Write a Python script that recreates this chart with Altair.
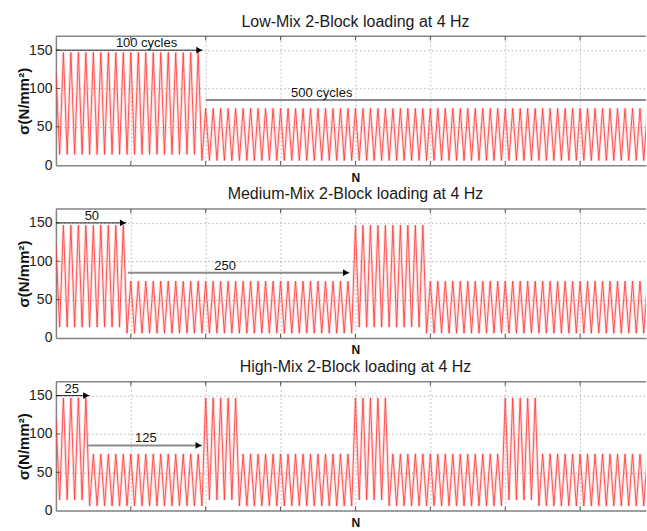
import altair as alt
import pandas as pd

FONT = "Liberation Sans"

TITLES = [
    "Low-Mix 2-Block loading at 4 Hz",
    "Medium-Mix 2-Block loading at 4 Hz",
    "High-Mix 2-Block loading at 4 Hz",
]

# Stress levels (N/mm²) of the two block types and the value the record starts at
HIGH_PEAK, HIGH_VALLEY = 147, 14
LOW_PEAK, LOW_VALLEY = 74, 6
START_VALUE = 120

# Spans of the high-stress blocks along N (one unit = one drawn load cycle);
# everything outside them is the low-stress block
HIGH_BLOCKS = [
    [(0, 19.5)],
    [(0, 9.5), (39.5, 49.5)],
    [(0, 4.5), (19.5, 24.5), (39.5, 44.5), (59.5, 64.5)],
]

# Block-length annotations: label, arrow start, arrow end, stress level, label centre, style
ANNOTATIONS = [
    [("100 cycles", 0, 19.6, 150, 12.1, "dark", True),
     ("500 cycles", 20.0, 90, 85, 35.5, "gray", False)],
    [("50", 0, 9.4, 150, 4.8, "dark", True),
     ("250", 9.6, 39.2, 85, 22.6, "gray", True)],
    [("25", 0, 4.5, 150, 2.1, "dark", True),
     ("125", 4.3, 19.5, 85, 12.0, "gray", True)],
]

X_MAX = 78.8
Y_MAX = 168
X_TICKS = [0, 10, 20, 30, 40, 50, 60, 70]
Y_TICKS = [0, 50, 100, 150]

PLOT_W, PLOT_H = 591, 129
FRAME = "#858585"
GRID = "#b5b5b5"
WAVE = "#ff3b3b"


def waveform(blocks):
    """Turning points of the block loading: peaks on whole cycles, valleys between."""
    rows = [{"t": 0.0, "s": START_VALUE}]
    k = 1
    while k / 2 <= X_MAX + 0.5:
        t = k / 2
        high = any(a < t < b for a, b in blocks)
        if k % 2 == 0:
            s = HIGH_PEAK if high else LOW_PEAK
        else:
            s = HIGH_VALLEY if high else LOW_VALLEY
        rows.append({"t": t, "s": s})
        k += 1
    return pd.DataFrame(rows)


def panel(i):
    x_scale = alt.Scale(domain=[0, X_MAX], nice=False, zero=False)
    y_scale = alt.Scale(domain=[0, Y_MAX], nice=False)

    x_axis = alt.Axis(
        values=X_TICKS, labels=False, ticks=False, grid=True,
        gridColor=GRID, gridDash=[1.5, 2.5], gridWidth=1,
        domainColor=FRAME, domainWidth=1.5,
        title="N", titleFont=FONT, titleFontSize=12, titleFontWeight="bold",
        titleColor="#111", titleX=300, titleY=7, titleBaseline="top",
    )
    y_axis = alt.Axis(
        values=Y_TICKS, ticks=False, grid=True,
        gridColor=GRID, gridDash=[1.5, 2.5], gridWidth=1,
        domainColor=FRAME, domainWidth=1.5,
        labelFont=FONT, labelFontSize=14, labelColor="#222", labelPadding=4,
        title="σ(N/mm²)", titleFont=FONT, titleFontSize=15, titleFontWeight="bold",
        titleColor="#111", titleX=-32, titleY=PLOT_H / 2, titleBaseline="middle",
        titleAngle=-90,
    )

    data = waveform(HIGH_BLOCKS[i])

    # soft halo under the trace, then the trace itself
    halo = alt.Chart(data).mark_line(
        color=WAVE, strokeWidth=3, clip=True, opacity=0.18
    ).encode(
        x=alt.X("t:Q", scale=x_scale, axis=x_axis),
        y=alt.Y("s:Q", scale=y_scale, axis=y_axis),
    )
    wave = alt.Chart(data).mark_line(
        color=WAVE, strokeWidth=1, clip=True, opacity=0.85
    ).encode(
        x=alt.X("t:Q", scale=x_scale),
        y=alt.Y("s:Q", scale=y_scale),
    )

    ann = pd.DataFrame(
        ANNOTATIONS[i],
        columns=["label", "x0", "x1", "level", "xc", "style", "head"],
    )

    arrows = alt.Chart(ann).mark_rule(clip=True).encode(
        x=alt.X("x0:Q", scale=x_scale),
        x2="x1:Q",
        y=alt.Y("level:Q", scale=y_scale),
        color=alt.Color("style:N", scale=alt.Scale(domain=["dark", "gray"], range=["#1e1e1e", "#8c8c8c"]), legend=None),
        strokeWidth=alt.StrokeWidth("style:N", scale=alt.Scale(domain=["dark", "gray"], range=[1, 2]), legend=None),
    )

    heads = alt.Chart(ann).transform_filter("datum.head").mark_point(
        shape="triangle-right", filled=True, color="#000", size=45, opacity=1, xOffset=-3.5
    ).encode(
        x=alt.X("x1:Q", scale=x_scale),
        y=alt.Y("level:Q", scale=y_scale),
    )

    labels = alt.Chart(ann).mark_text(
        font=FONT, fontSize=13, color="#111", baseline="alphabetic", dy=-3
    ).encode(
        x=alt.X("xc:Q", scale=x_scale),
        y=alt.Y("level:Q", scale=y_scale),
        text="label:N",
    )

    # frame top edge and inward tick marks
    top = alt.Chart(pd.DataFrame({"v": [Y_MAX]})).mark_rule(
        color=FRAME, strokeWidth=1.5
    ).encode(y=alt.Y("v:Q", scale=y_scale))

    xt = pd.DataFrame({"v": X_TICKS[1:]})
    x_ticks_bottom = alt.Chart(xt).mark_rule(color="#555", strokeWidth=1).encode(
        x=alt.X("v:Q", scale=x_scale), y=alt.value(PLOT_H), y2=alt.value(PLOT_H - 4)
    )
    x_ticks_top = alt.Chart(xt).mark_rule(color="#555", strokeWidth=1).encode(
        x=alt.X("v:Q", scale=x_scale), y=alt.value(0), y2=alt.value(4)
    )
    y_ticks = alt.Chart(pd.DataFrame({"v": Y_TICKS[1:]})).mark_rule(
        color="#555", strokeWidth=1
    ).encode(y=alt.Y("v:Q", scale=y_scale), x=alt.value(0), x2=alt.value(4))

    return alt.layer(
        halo, wave, top, x_ticks_bottom, x_ticks_top, y_ticks, arrows, heads, labels
    ).properties(
        width=PLOT_W,
        height=PLOT_H,
        title=alt.TitleParams(
            TITLES[i], font=FONT, fontSize=16, fontWeight="normal", color="#1a1a1a",
            anchor="middle", dx=4.5, offset=6, frame="group",
        ),
    )


chart = alt.vconcat(
    panel(0), panel(1), panel(2), spacing=44, bounds="flush"
).properties(
    padding={"left": 16, "top": 13, "right": 0, "bottom": 0},
    background="white",
).configure_view(stroke=None)

chart.save("out.html", embed_options={"renderer": "svg", "actions": False})
